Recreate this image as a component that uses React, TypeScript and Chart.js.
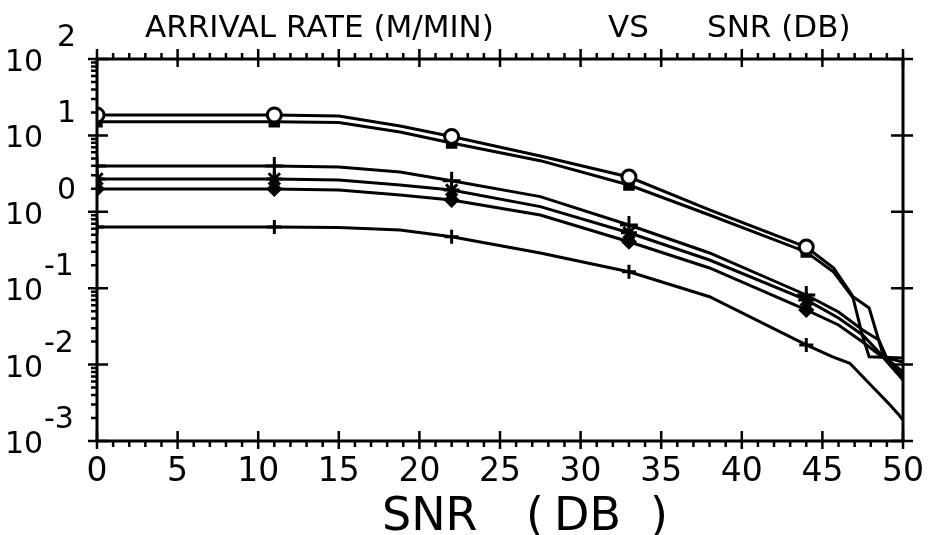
import React, { useEffect, useRef } from "react";
import { Chart, registerables } from "chart.js";

Chart.register(...registerables);

// ---- data ----
const MARKER_SNR = [0, 11, 22, 33, 44];
const X_TICKS = [0, 5, 10, 15, 20, 25, 30, 35, 40, 45, 50];
const Y_EXPONENTS = [2, 1, 0, -1, -2, -3];

const SNR_A = [0, 11, 15, 18.8, 22, 27.5, 33, 38, 44, 45.7, 46.9, 47.9, 48.8, 50];
const RATE_A = [18.5, 18.5, 17.9, 13.3, 9.7, 5.37, 2.85, 1.06, 0.346, 0.184, 0.0774, 0.0551, 0.0127, 0.00695];

const SNR_B = [0, 11, 15, 18.8, 22, 27.5, 33, 38, 44, 45.7, 46.9, 47.5, 47.9, 50];
const RATE_B = [15.1, 15.1, 14.7, 11.1, 7.96, 4.67, 2.24, 0.908, 0.298, 0.163, 0.0745, 0.0232, 0.0127, 0.0122];

const SNR_C = [0, 11, 15, 18.8, 22, 27.5, 33, 38, 44, 46, 47.5, 48.5, 49, 50];
const RATE_C = [3.97, 3.97, 3.85, 3.32, 2.55, 1.58, 0.671, 0.289, 0.0815, 0.0488, 0.0284, 0.021, 0.0122, 0.0108];

const SNR_D = [0, 11, 15, 18.8, 22, 27.5, 33, 38, 44, 46, 47.5, 48.5, 50];
const RATE_D = [2.69, 2.69, 2.61, 2.24, 1.93, 1.17, 0.532, 0.234, 0.0702, 0.0408, 0.0244, 0.0146, 0.008];

const SNR_E = [0, 11, 15, 18.8, 22, 27.5, 33, 38, 44, 46, 47.5, 48.8, 50];
const RATE_E = [1.99, 1.99, 1.93, 1.66, 1.43, 0.908, 0.406, 0.184, 0.0519, 0.033, 0.0198, 0.0122, 0.00628];

const SNR_F = [0, 11, 15, 18.8, 22, 27.5, 33, 38, 44, 45.6, 46.7, 48.3, 49.1, 49.75, 50];
const RATE_F = [0.632, 0.632, 0.623, 0.578, 0.472, 0.289, 0.164, 0.0774, 0.0181, 0.0127, 0.0104, 0.00466, 0.00311, 0.00219, 0.00188];

const TITLE_PARTS = ["ARRIVAL RATE (M/MIN)", "VS", "SNR (DB)"];
const X_TITLE_PARTS = ["SNR", "(", "DB", ")"];

const FONT = "'DejaVu Sans', sans-serif";

function pts(xs: number[], ys: number[]) {
  return xs.map((x, i) => ({ x, y: ys[i] }));
}

const framePlugin = {
  id: "framePlugin",
  afterDraw(chart: any) {
    const { ctx, chartArea: a, scales } = chart;
    const xs = scales.x;
    const ys = scales.y;
    ctx.save();
    ctx.strokeStyle = "#000";
    ctx.fillStyle = "#000";
    ctx.lineWidth = 3;
    ctx.strokeRect(a.left, a.top, a.right - a.left, a.bottom - a.top);

    ctx.lineWidth = 2.5;
    ctx.beginPath();
    for (let v = xs.min; v <= xs.max; v++) {
      const px = xs.getPixelForValue(v);
      const major = v % 5 === 0;
      if (major) {
        ctx.moveTo(px, a.bottom - 10);
        ctx.lineTo(px, a.bottom + 8);
        ctx.moveTo(px, a.top - 10);
        ctx.lineTo(px, a.top + 8);
      } else {
        ctx.moveTo(px, a.bottom);
        ctx.lineTo(px, a.bottom + 6);
        ctx.moveTo(px, a.top);
        ctx.lineTo(px, a.top - 6);
      }
    }
    for (const e of Y_EXPONENTS) {
      const py = ys.getPixelForValue(Math.pow(10, e));
      ctx.moveTo(a.left - 9, py);
      ctx.lineTo(a.left + 11, py);
      ctx.moveTo(a.right - 12, py);
      ctx.lineTo(a.right + 10, py);
      if (e > -3) {
        for (let m = 2; m <= 9; m++) {
          const p2 = ys.getPixelForValue(m * Math.pow(10, e - 1));
          ctx.moveTo(a.left - 6, p2);
          ctx.lineTo(a.left, p2);
        }
      }
    }
    ctx.stroke();

    // x tick labels
    ctx.font = `33px ${FONT}`;
    ctx.textAlign = "center";
    ctx.textBaseline = "alphabetic";
    for (const t of X_TICKS) {
      ctx.fillText(String(t), xs.getPixelForValue(t), a.bottom + 40);
    }

    // y tick labels 10^e
    ctx.textAlign = "left";
    for (const e of Y_EXPONENTS) {
      const py = ys.getPixelForValue(Math.pow(10, e));
      ctx.font = `30px ${FONT}`;
      ctx.fillText("10", 5, py + 12);
      if (e >= 0) {
        ctx.fillText(String(e), 57, py - 13);
      } else {
        ctx.fillText(String(e), 44, py - 13);
      }
    }

    // title
    ctx.font = `31px ${FONT}`;
    ctx.fillText(TITLE_PARTS[0], 145, 37);
    ctx.fillText(TITLE_PARTS[1], 608, 37);
    ctx.fillText(TITLE_PARTS[2], 707, 37);

    // x axis title
    ctx.font = `46px ${FONT}`;
    ctx.fillText(X_TITLE_PARTS[0], 382, 530);
    ctx.fillText(X_TITLE_PARTS[1], 526, 530);
    ctx.fillText(X_TITLE_PARTS[2], 554, 530);
    ctx.fillText(X_TITLE_PARTS[3], 650, 530);
    ctx.restore();
  },
};

function markerRadius(r: number) {
  return (c: any) => (c.raw && MARKER_SNR.includes(c.raw.x) ? r : 0);
}

export default function App() {
  const ref = useRef<HTMLCanvasElement | null>(null);
  useEffect(() => {
    if (!ref.current) return;
    const base = {
      borderColor: "#000",
      borderWidth: 3,
      pointBorderColor: "#000",
      pointBorderWidth: 3,
      tension: 0,
      fill: false,
    };
    const chart = new Chart(ref.current, {
      type: "line",
      data: {
        datasets: [
          { ...base, label: "A", data: pts(SNR_A, RATE_A), pointStyle: "circle", pointRadius: markerRadius(7), pointBackgroundColor: "#fff" },
          { ...base, label: "B", data: pts(SNR_B, RATE_B), pointStyle: "rect", pointRadius: markerRadius(6), pointBackgroundColor: "#000" },
          { ...base, label: "C", data: pts(SNR_C, RATE_C), pointStyle: "cross", pointRadius: markerRadius(9), pointBackgroundColor: "#000" },
          { ...base, label: "D", data: pts(SNR_D, RATE_D), pointStyle: "star", pointRadius: markerRadius(8), pointBackgroundColor: "#000" },
          { ...base, label: "E", data: pts(SNR_E, RATE_E), pointStyle: "rectRot", pointRadius: markerRadius(6), pointBackgroundColor: "#000" },
          { ...base, label: "F", data: pts(SNR_F, RATE_F), pointStyle: "cross", pointRadius: markerRadius(7), pointBackgroundColor: "#000" },
        ],
      },
      options: {
        responsive: false,
        animation: false,
        devicePixelRatio: 1,
        layout: { padding: { left: 97, right: 27, top: 59, bottom: 94 } },
        plugins: { legend: { display: false }, tooltip: { enabled: false }, title: { display: false } },
        scales: {
          x: { type: "linear", min: 0, max: 50, display: false },
          y: { type: "logarithmic", min: 0.001, max: 100, display: false },
        },
      },
      plugins: [framePlugin],
    } as any);
    return () => chart.destroy();
  }, []);
  return (
    <div style={{ position: "fixed", left: 0, top: 0, width: 930, height: 535, background: "#fff" }}>
      <canvas ref={ref} width={930} height={535} style={{ display: "block" }} />
    </div>
  );
}
